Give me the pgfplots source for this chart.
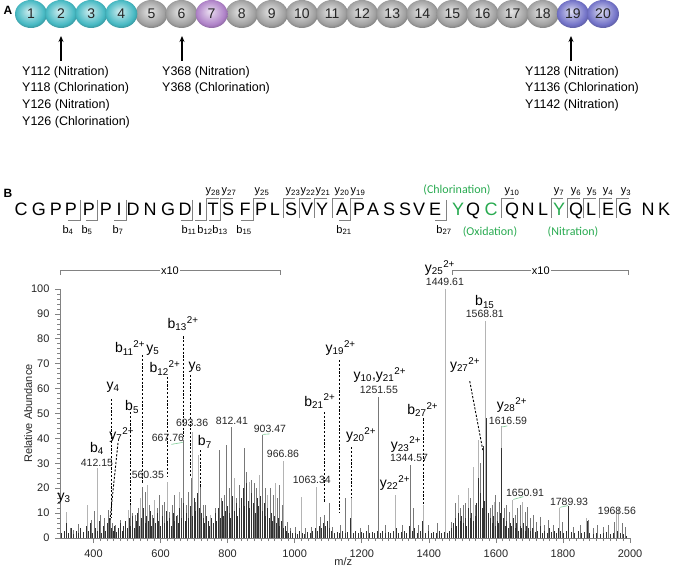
\documentclass[border=0pt]{standalone}
\usepackage{fontspec}
\setmainfont{Liberation Sans}
\newfontfamily\carl{Carlito}
\usepackage{pgfplots}
\pgfplotsset{compat=1.18}
\usetikzlibrary{arrows.meta,shapes.geometric,shadings}

\definecolor{tealb}{RGB}{70,185,195}
\definecolor{grayb}{RGB}{160,160,160}
\definecolor{purpb}{RGB}{175,130,200}
\definecolor{blueb}{RGB}{115,115,200}
\definecolor{grn}{RGB}{40,170,80}
\definecolor{pklight}{RGB}{180,180,180}
\definecolor{pkmid}{RGB}{120,120,120}
\definecolor{pkdark}{RGB}{50,50,50}
\definecolor{axgray}{RGB}{130,130,130}

% lighter ball shading for the domain balls
\makeatletter
\pgfdeclareradialshading[tikz@ball]{ball}{\pgfqpoint{-3bp}{5bp}}{%
  color(0bp)=(tikz@ball!25!white);
  color(10bp)=(tikz@ball!60!white);
  color(22bp)=(tikz@ball);
  color(26bp)=(tikz@ball!85!black);
  color(50bp)=(tikz@ball!85!black)}
\makeatother

\tikzset{
  ion/.style={font=\fontsize{14}{16}\selectfont, inner sep=0pt},
  num/.style={font=\fontsize{10.5}{12}\selectfont, inner sep=0pt, text=black!85},
  brk/.style={axgray, line width=0.8pt},
  lab/.style={font=\fontsize{11}{12}\selectfont, inner sep=0pt},
  ann/.style={font=\fontsize{12.5}{15}\selectfont, anchor=base west, inner sep=0pt},
}

\begin{document}
\begin{tikzpicture}
\useasboundingbox (0,0) rectangle (674pt,570pt);

% ---------- panel A: domains ----------
\begin{axis}[
  at={(31pt,542pt)}, anchor=south west,
  scale only axis, width=572pt, height=28pt,
  xmin=1, xmax=20, ymin=-1, ymax=1,
  hide axis, clip=false,
  nodes near coords, point meta=explicit symbolic,
  every node near coord/.append style={anchor=center, ellipse, minimum width=32pt,
    minimum height=28pt, inner sep=0pt, font=\fontsize{14}{16}\selectfont, text=black!85},
]
\addplot[draw=none, mark=none, every node near coord/.append style={ball color=grayb}]
  coordinates {(5,0)[5] (6,0)[6] (8,0)[8] (9,0)[9] (10,0)[10] (11,0)[11] (12,0)[12]
    (13,0)[13] (14,0)[14] (15,0)[15] (16,0)[16] (17,0)[17] (18,0)[18]};
\addplot[draw=none, mark=none, every node near coord/.append style={ball color=tealb}]
  coordinates {(1,0)[1] (2,0)[2] (3,0)[3] (4,0)[4]};
\addplot[draw=none, mark=none, every node near coord/.append style={ball color=purpb}]
  coordinates {(7,0)[7]};
\addplot[draw=none, mark=none, every node near coord/.append style={ball color=blueb}]
  coordinates {(19,0)[19] (20,0)[20]};
\end{axis}

% ---------- panel B: spectrum ----------
\begin{axis}[
  at={(60pt,32pt)}, anchor=south west,
  scale only axis, width=570pt, height=249pt,
  xmin=300, xmax=2000, ymin=0, ymax=100,
  axis x line*=bottom, axis y line*=left,
  axis line style={axgray, -, line width=0.7pt},
  xtick={400,600,...,2000}, ytick={0,10,...,100},
  minor x tick num=9, minor y tick num=4,
  tick align=outside, major tick length=5pt, minor tick length=3pt,
  tick style={axgray, line width=0.6pt},
  ticklabel style={font=\fontsize{11}{12}\selectfont, text=black!85},
  xticklabel style={yshift=-3pt, /pgf/number format/1000 sep={}},
  yticklabel style={xshift=-2pt},
  /pgf/number format/assume math mode=true,
  xlabel={m/z}, ylabel={Relative Abundance},
  label style={font=\fontsize{11}{12}\selectfont, text=black!85},
  xlabel style={at={(axis description cs:0.497,-0.096)}, anchor=center},
  ylabel style={at={(axis description cs:-0.056,0.5)}, anchor=center},
  clip=false,
]
% light grey peaks
\addplot[ycomb, pklight, line width=1pt] coordinates {
(320,10.3)(382,13.2)(413,28)(503,11.2)(540,15.9)(560,21.3)(583,15.2)(620,22.3)(657,18.6)
(695,42.7)(713,33.3)(748,9.2)(820,24)(865,22.6)(895,25.3)(919,17.2)(942,22)(966,30.9)
(1019,16.6)(1065,20.6)(1152,15.2)(1170,15.9)(1300,17.2)(1383,13.2)(1449,100)(1487,17.2)
(1518,20)(1532,28.6)(1548,39.3)(1569,87)(1595,14.6)(1617,45)(1651,15.3)(1680,14.6)
(1789,12.2)(1869,7.9)(1960,9.9)(1967,11.9)};
% mid grey peaks
\addplot[ycomb, pkmid, line width=0.8pt] coordinates {
(330,3.9)(340,3.2)(355,5.5)(360,2.5)(393,7.2)(403,10.8)(420,9.2)(433,7.9)(443,11.2)(450,7.9)
(455,5.9)(465,5.2)(480,7.2)(495,3.9)(510,13.2)(517,9.9)(525,9.2)(533,11.9)(547,20.6)(555,18.6)
(568,13.2)(575,9.2)(590,11.9)(597,17.2)(605,13.2)(612,14.6)(627,10.5)(635,13.2)(642,17.2)
(649,9.2)(663,15.9)(668,39.4)(677,13.2)(683,18.6)(691,24.2)(705,14.6)(720,21.3)(727,13.2)
(733,13.2)(763,11.9)(775,35.3)(782,15.9)(790,17.2)(797,37.3)(805,20)(812,44.6)(827,15.9)
(835,21.3)(842,13.2)(851,36.3)(857,26.6)(872,23.3)(879,22)(887,20)(903,41.4)(912,20)(927,20)
(935,17.2)(949,15.9)(955,21.3)(962,13.2)(977,6.5)(987,3.9)(1002,4.5)(1032,3.9)(1049,4.5)
(1077,8.5)(1089,9.2)(1102,13.9)(1112,4.5)(1135,5.2)(1150,15.9)(1195,3.9)(1220,5.2)(1251,56.6)
(1270,5.2)(1320,5.2)(1344,29.3)(1355,11.9)(1368,5.2)(1400,5.2)(1425,5.9)(1468,6.5)(1480,13.9)
(1495,11.9)(1502,13.2)(1510,13.9)(1525,15.9)(1540,13.2)(1555,30)(1585,11.9)(1590,13.2)
(1599,17.2)(1604,10.5)(1609,14.6)(1624,11.9)(1632,13.2)(1639,10.5)(1657,9.2)(1664,11.9)
(1672,13.2)(1687,10.5)(1695,12.6)(1702,7.9)(1712,9.2)(1722,6.5)(1732,8.5)(1744,5.2)(1757,7.2)
(1772,5.2)(1797,6.5)(1832,4.5)(1852,5.2)(1875,7.2)(1892,3.9)(1904,5.2)(1922,4.5)(1937,5.2)
(1952,6.5)(1977,5.9)(1987,4.5)};
% dark peaks
\addplot[ycomb, pkdark, line width=0.6pt] coordinates {
(305,2)(312,3)(318,6)(326,2)(333,4)(341,1.5)(348,3)(356,2)(362,4)(370,2.5)(377,5)(384,3)
(390,6)(397,2)(404,4)(410,3)(417,7)(423,2)(429,5)(436,3)(441,6)(447,8)(452,4)(458,3)(463,5)
(469,2.5)(474,4)(479,6)(485,3)(490,5)(495,7)(500,4)(506,8)(511,5)(516,9)(521,4)(527,7)(532,10)
(537,5)(542,8)(548,12)(553,6)(558,9)(563,7)(568,11)(573,5)(578,8)(584,6)(589,10)(594,7)(600,5)
(605,9)(610,6)(616,11)(621,7)(626,8)(631,5)(637,10)(642,7)(647,9)(652,6)(657,12)(662,8)(668,14)
(673,7)(678,10)(684,8)(689,13)(695,9)(700,16)(705,11)(710,18)(716,12)(721,10)(726,8)
(731,6)(736,9)(741,7)(746,5)(752,8)(757,6)(762,10)(767,7)(772,12)(778,8)(783,15)(788,9)(793,11)
(799,13)(804,10)(809,8)(814,17)(819,11)(825,14)(830,9)(835,12)(840,16)(846,20)(851,13)(856,22)
(861,15)(866,12)(872,18)(877,14)(882,10)(887,16)(892,13)(898,17)(903,11)(908,14)(913,9)(919,12)
(924,8)(929,10)(934,7)(940,9)(945,6)(950,8)(955,5)(961,7)(966,4)(971,5)(976,3)(982,2)(988,3)
(994,2)(1001,2)(1008,1.5)(1015,3)(1022,2)(1030,1.5)(1038,2.5)(1046,2)(1053,3)(1060,4)(1067,3)
(1073,5)(1080,4)(1086,6)(1092,5)(1098,7)(1104,4)(1110,3)(1118,2)(1126,2.5)(1134,2)(1142,3)
(1150,2)(1158,2.5)(1166,8)(1174,2)(1182,3)(1190,2)(1198,2.5)(1206,2)(1214,3)(1222,2)(1230,2.5)
(1238,2)(1246,3)(1254,2)(1262,3)(1270,2)(1278,2.5)(1286,2)(1294,3)(1302,4)(1310,2)(1318,2.5)
(1326,3)(1334,2)(1342,5)(1350,3)(1358,4)(1366,2)(1374,3)(1382,7)(1390,2)(1398,3)(1406,2)
(1414,2.5)(1422,2)(1430,3)(1438,2)(1446,2.5)(1455,2)(1462,3)
(1468,4)(1473,6)(1478,8)(1483,5)(1488,10)(1493,7)(1498,9)(1503,6)(1508,8)(1513,5)(1518,12)
(1523,8)(1528,10)(1533,7)(1538,9)(1543,14)(1548,24)(1553,18)(1558,12)(1562,37)(1566,15)
(1572,48)(1578,10)(1583,8)(1588,6)(1593,9)(1598,5)(1603,7)(1608,6)(1613,10)(1617,36)(1622,8)
(1627,5)(1632,7)(1637,4)(1642,6)(1647,5)(1652,8)(1657,4)(1662,6)(1667,3)(1672,5)(1677,4)
(1682,6)(1687,3)(1692,5)(1697,4)(1703,3)(1710,4)(1717,2.5)(1724,3)(1731,5)(1738,2)(1745,3)
(1752,2)(1759,4)(1766,2.5)(1773,3)(1780,2)(1786,4)(1792,3)(1800,2)(1810,3)(1817,13)(1825,2.5)
(1835,2)(1845,3)(1855,2)(1865,2.5)(1872,7)(1880,2)(1890,1.5)(1900,2)(1910,1.5)(1920,2)
(1930,2.5)(1940,1.5)(1950,2)(1962,3)(1970,2)(1980,1.5)(1990,1)};

% dashed ion markers
\addplot[black, line width=0.9pt, dash pattern=on 2.2pt off 1.6pt] coordinates {(452,55.8)(452,8.4)};
\addplot[black, line width=0.9pt, dash pattern=on 2.2pt off 1.6pt] coordinates {(473,38.2)(449,7.2)};
\addplot[black, line width=0.9pt, dash pattern=on 2.2pt off 1.6pt] coordinates {(509,50.6)(509,13.3)};
\addplot[black, line width=0.9pt, dash pattern=on 2.2pt off 1.6pt] coordinates {(545,73.5)(545,22)};
\addplot[black, line width=0.9pt, dash pattern=on 2.2pt off 1.6pt] coordinates {(619,64.7)(619,24.5)};
\addplot[black, line width=0.9pt, dash pattern=on 2.2pt off 1.6pt] coordinates {(667,81)(667,40)};
\addplot[black, line width=0.9pt, dash pattern=on 2.2pt off 1.6pt] coordinates {(688,65.5)(688,24.5)};
\addplot[black, line width=0.9pt, dash pattern=on 2.2pt off 1.6pt] coordinates {(720,35.3)(720,20.5)};
\addplot[black, line width=0.9pt, dash pattern=on 2.2pt off 1.6pt] coordinates {(1090,50.6)(1090,14)};
\addplot[black, line width=0.9pt, dash pattern=on 2.2pt off 1.6pt] coordinates {(1132,71.5)(1132,10.4)};
\addplot[black, line width=0.9pt, dash pattern=on 2.2pt off 1.6pt] coordinates {(1168,36.5)(1168,16.5)};
\addplot[black, line width=0.9pt, dash pattern=on 2.2pt off 1.6pt] coordinates {(1385,48)(1385,13.3)};
\addplot[black, line width=0.9pt, dash pattern=on 2.2pt off 1.6pt] coordinates {(1522,63)(1561,35.3)};

% green leaders
\addplot[grn!60, line width=0.6pt] coordinates {(632,37.6)(666,38.4)};
\addplot[grn!60, line width=0.6pt] coordinates {(904,41.6)(925,41.8)};
\addplot[grn!60, line width=0.6pt] coordinates {(1618,44.6)(1634,45)};
\addplot[grn!60, line width=0.6pt] coordinates {(1652,15.5)(1682,16.6)};
\addplot[grn!60, line width=0.6pt] coordinates {(1790,12.3)(1815,13)};

% x10 brackets
\addplot[axgray, line width=0.7pt] coordinates {(300,105.6)(300,107.4)(956,107.4)(956,105.6)};
\addplot[axgray, line width=0.7pt] coordinates {(1469,105.6)(1469,107.4)(1994,107.4)(1994,105.6)};
\node[fill=white, inner sep=1pt, font=\fontsize{11}{12}\selectfont] at (axis cs:628,107.4) {x10};
\node[fill=white, inner sep=1pt, font=\fontsize{11}{12}\selectfont] at (axis cs:1734,107.4) {x10};

% ion labels
\node[ion] at (axis cs:312,16) {y\textsubscript{3}};
\node[ion] at (axis cs:410,36.1) {b\textsubscript{4}};
\node[num] at (axis cs:410,30.1) {412.15};
\node[ion] at (axis cs:458,60.6) {y\textsubscript{4}};
\node[ion] at (axis cs:484,41.4) {y\textsubscript{7}\textsuperscript{2+}};
\node[ion] at (axis cs:515,52.6) {b\textsubscript{5}};
\node[ion] at (axis cs:509,76.3) {b\textsubscript{11}\textsuperscript{2+}};
\node[ion] at (axis cs:577,75.5) {y\textsubscript{5}};
\node[num] at (axis cs:562,25.3) {560.35};
\node[ion] at (axis cs:613,68.3) {b\textsubscript{12}\textsuperscript{2+}};
\node[num] at (axis cs:622,40.2) {667.76};
\node[ion] at (axis cs:667,86) {b\textsubscript{13}\textsuperscript{2+}};
\node[num] at (axis cs:694,46.2) {693.36};
\node[ion] at (axis cs:703,68.7) {y\textsubscript{6}};
\node[ion] at (axis cs:732,38.6) {b\textsubscript{7}};
\node[num] at (axis cs:813,47) {812.41};
\node[num] at (axis cs:926,43.8) {903.47};
\node[num] at (axis cs:965,33.7) {966.86};
\node[num] at (axis cs:1051,23.3) {1063.34};
\node[ion] at (axis cs:1075,55) {b\textsubscript{21}\textsuperscript{2+}};
\node[ion] at (axis cs:1137,76.3) {y\textsubscript{19}\textsuperscript{2+}};
\node[ion] at (axis cs:1198,41.4) {y\textsubscript{20}\textsuperscript{2+}};
\node[ion] at (axis cs:1254,65.5) {y\textsubscript{10},y\textsubscript{21}\textsuperscript{2+}};
\node[num] at (axis cs:1251,59.4) {1251.55};
\node[ion] at (axis cs:1299,22) {y\textsubscript{22}\textsuperscript{2+}};
\node[ion] at (axis cs:1332,37.5) {y\textsubscript{23}\textsuperscript{2+}};
\node[num] at (axis cs:1341,32) {1344.57};
\node[ion] at (axis cs:1382,51.5) {b\textsubscript{27}\textsuperscript{2+}};
\node[ion] at (axis cs:1433,108.4) {y\textsubscript{25}\textsuperscript{2+}};
\node[num] at (axis cs:1448,102.8) {1449.61};
\node[ion] at (axis cs:1567,94.8) {b\textsubscript{15}};
\node[num] at (axis cs:1567,90) {1568.81};
\node[ion] at (axis cs:1508,69.5) {y\textsubscript{27}\textsuperscript{2+}};
\node[ion] at (axis cs:1648,53.4) {y\textsubscript{28}\textsuperscript{2+}};
\node[num] at (axis cs:1636,47.2) {1616.59};
\node[num] at (axis cs:1687,18) {1650.91};
\node[num] at (axis cs:1818,14.5) {1789.93};
\node[num] at (axis cs:1961,10.8) {1968.56};
\end{axis}

% ---------- annotations in picture pixels (y down) ----------
\begin{scope}[x=1pt, y=-1pt, yshift=570pt]
\node[font=\bfseries\fontsize{12}{14}\selectfont, inner sep=0pt] at (8,10) {A};
\node[font=\bfseries\fontsize{12}{14}\selectfont, inner sep=0pt] at (8,193) {B};

\foreach \ax in {61,182,571}
  \draw[black, line width=1.3pt, -{Stealth[length=6pt,width=5pt]}] (\ax,61) -- (\ax,36);

\node[ann] at (22,75.5) {Y112 (Nitration)};
\node[ann] at (22,92) {Y118 (Chlorination)};
\node[ann] at (22,108.5) {Y126 (Nitration)};
\node[ann] at (22,125.5) {Y126 (Chlorination)};
\node[ann] at (162,75.5) {Y368 (Nitration)};
\node[ann] at (162,92) {Y368 (Chlorination)};
\node[ann] at (525,75.5) {Y1128 (Nitration)};
\node[ann] at (525,92) {Y1136 (Chlorination)};
\node[ann] at (525,108.5) {Y1142 (Nitration)};

% peptide sequence
\foreach \l/\x/\c in {C/21/black,G/39/black,P/56/black,P/71/black,P/89/black,P/106/black,
  I/119/black,D/133/black,N/150/black,G/168/black,D/185/black,I/200/black,T/213/black,
  S/228/black,F/245/black,P/261/black,L/275/black,S/291/black,V/307/black,Y/322/black,
  A/342/black,P/359/black,A/373/black,S/389/black,S/405/black,V/419/black,E/435/black,
  Y/458/grn,Q/473/black,C/491/grn,Q/512/black,N/528/black,L/543/black,Y/559/grn,
  Q/576/black,L/591/black,E/608/black,G/625/black,N/648/black,K/664/black}
  \node[anchor=base, inner sep=0pt, text=\c, font=\fontsize{18}{20}\selectfont] at (\x,215.5) {\l};

\foreach \bx/\lx/\n in {80/68/4,97.5/87/5,126/118/7,192.5/189/11,206.5/205/12,220.5/220/13,
  253/244/15,350.5/344/21,446.5/444/27} {
  \draw[brk] (\bx,200) -- (\bx,220) -- (\bx-12,220);
  \node[lab] at (\lx,230) {b\textsubscript{\n}};
}
\foreach \bx/\lx/\n in {206.5/213/28,220.5/229/27,253/262/25,283/293/23,299/308/22,
  314.5/323/21,332/342/20,350.5/358/19,501.5/512/10,551/559/7,567.5/576/6,583.5/592/5,
  599.5/608/4,616.5/626/3} {
  \draw[brk] (\bx,218) -- (\bx,198) -- (\bx+12,198);
  \node[lab] at (\lx,192) {y\textsubscript{\n}};
}
\node[text=grn, font=\carl\fontsize{12}{14}\selectfont, inner sep=0pt] at (457,190) {(Chlorination)};
\node[text=grn, font=\carl\fontsize{12}{14}\selectfont, inner sep=0pt] at (490,232) {(Oxidation)};
\node[text=grn, font=\carl\fontsize{12}{14}\selectfont, inner sep=0pt] at (573,232) {(Nitration)};
\end{scope}
\end{tikzpicture}
\end{document}
